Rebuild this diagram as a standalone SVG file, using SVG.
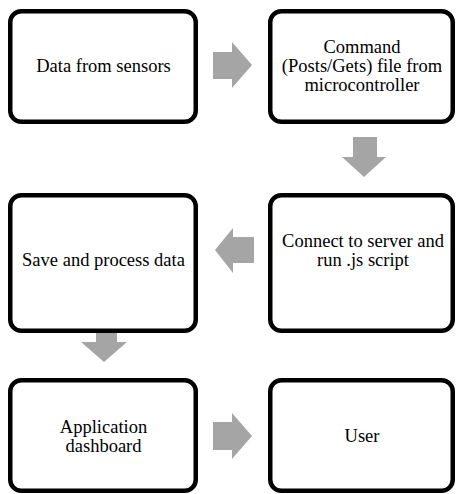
<svg xmlns="http://www.w3.org/2000/svg" width="456" height="494" viewBox="0 0 456 494">
<style>
.box{fill:#fff;stroke:#000;stroke-width:4.5}
.t{font-size:18.5px;fill:#000;text-anchor:middle}
.arr{fill:#a5a5a5}
</style>
<rect width="456" height="494" fill="#fff"/>
<g id="connectors">
<polygon class="arr" points="213,52 232,52 232,42 252,65 232,88 232,79 213,79"/>
<polygon class="arr" points="353,137 377,137 377,157 386,157 364,177 342,157 353,157"/>
<polygon class="arr" points="254,237 233,237 233,228 215,250 233,273 233,263 254,263"/>
<polygon class="arr" points="96,323 117,323 117,342 127,342 104,362 81,342 96,342"/>
<polygon class="arr" points="213,422 232,422 232,413 252,436 232,459 232,450 213,450"/>
</g>
<g font-family="Liberation Serif, Times New Roman, serif">
<g id="node1">
<rect class="box" x="10.25" y="11.25" width="185.5" height="110.5" rx="11"/>
<text class="t" x="103.5" y="72">Data from sensors</text>
</g>
<g id="node2">
<rect class="box" x="270.25" y="11.25" width="182.5" height="110.5" rx="11"/>
<text class="t" x="362" y="52.5">Command</text>
<text class="t" x="362" y="71.5">(Posts/Gets) file from</text>
<text class="t" x="362" y="90.5">microcontroller</text>
</g>
<g id="node3">
<rect class="box" x="10.25" y="195.25" width="185.5" height="135.5" rx="11"/>
<text class="t" x="103.5" y="266">Save and process data</text>
</g>
<g id="node4">
<rect class="box" x="270.25" y="195.25" width="182.5" height="135.5" rx="11"/>
<text class="t" x="363" y="246.5">Connect to server and</text>
<text class="t" x="363" y="265.5">run .js script</text>
</g>
<g id="node5">
<rect class="box" x="10.25" y="380.25" width="185.5" height="110.5" rx="11"/>
<text class="t" x="103.5" y="433">Application</text>
<text class="t" x="103.5" y="452">dashboard</text>
</g>
<g id="node6">
<rect class="box" x="270.25" y="380.25" width="182.5" height="110.5" rx="11"/>
<text class="t" x="362" y="442">User</text>
</g>
</g>
</svg>
